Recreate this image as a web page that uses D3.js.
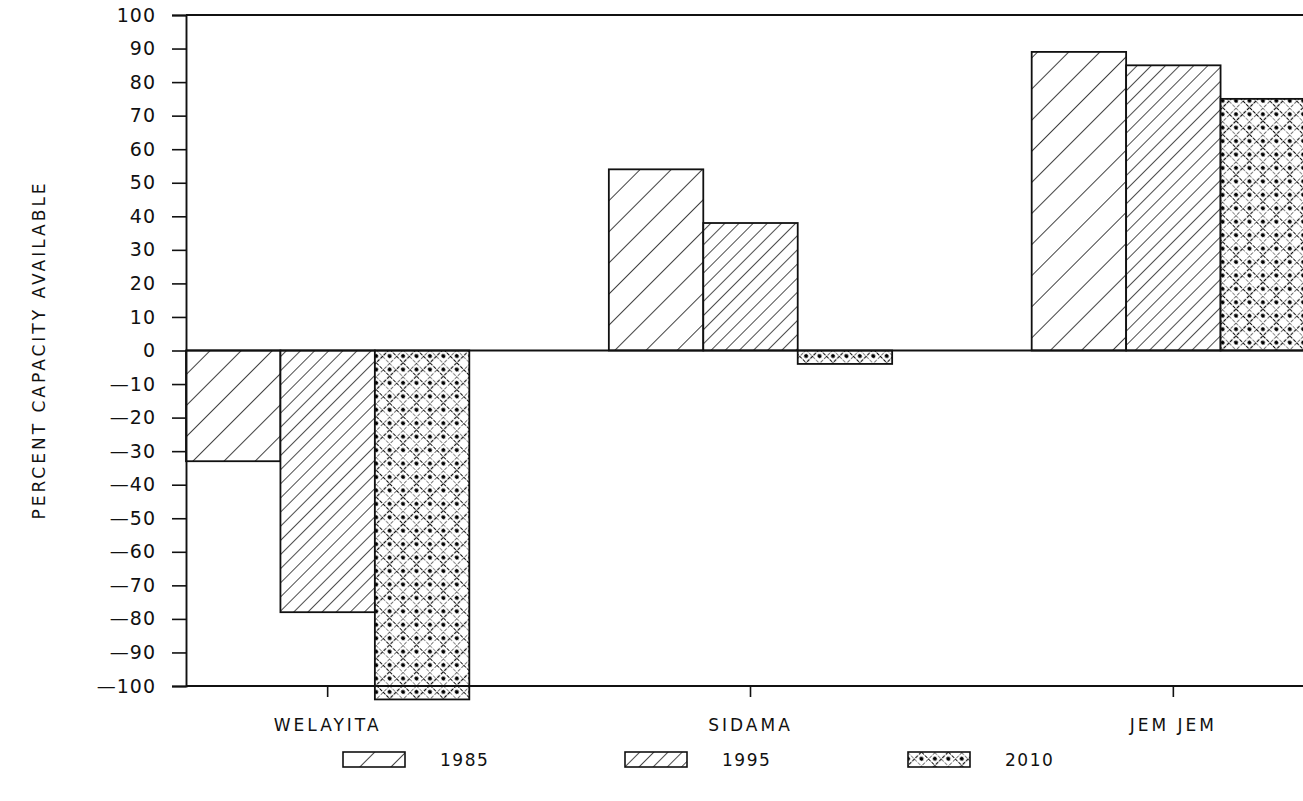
<!DOCTYPE html>
<html>
<head>
<meta charset="utf-8">
<script src="https://cdn.jsdelivr.net/npm/d3@7"></script>
<style>
  html, body { margin: 0; padding: 0; background: #fff; }
  svg { display: block; }
  text { font-family: "DejaVu Sans", sans-serif; fill: #111; }
</style>
</head>
<body>
<svg id="chart" width="1303" height="801"></svg>
<script>
// Regions and scenario years
const regions = ["WELAYITA", "SIDAMA", "JEM JEM"];
const years = ["1985", "1995", "2010"];

// Percent capacity available, one array per year (in region order)
const values1985 = [-33, 54, 89];
const values1995 = [-78, 38, 85];
const values2010 = [-104, -4, 75];

const yTicks = [100, 90, 80, 70, 60, 50, 40, 30, 20, 10, 0, -10, -20, -30, -40, -50, -60, -70, -80, -90, -100];

const seriesByYear = { "1985": values1985, "1995": values1995, "2010": values2010 };
const rows = [];
regions.forEach((r, i) => years.forEach(yr => rows.push({ region: r, year: yr, value: seriesByYear[yr][i] })));

const svg = d3.select("#chart");
const W = 1303;

const y = d3.scaleLinear().domain([-100, 100]).range([686, 15]);
const x0 = d3.scaleBand().domain(regions).range([186, 1315]).paddingInner(0.33).paddingOuter(0);
const x1 = d3.scaleBand().domain(years).range([0, x0.bandwidth()]);

// Hatch patterns
const defs = svg.append("defs");
function hatch(id, spacing, sw) {
  const p = defs.append("pattern").attr("id", id)
    .attr("patternUnits", "userSpaceOnUse")
    .attr("width", spacing).attr("height", spacing)
    .attr("patternTransform", "rotate(45)");
  p.append("rect").attr("width", spacing).attr("height", spacing).attr("fill", "#fff");
  p.append("line").attr("x1", 0).attr("y1", 0).attr("x2", 0).attr("y2", spacing)
    .attr("stroke", "#111").attr("stroke-width", sw);
}
hatch("p1985", 22, 1.6);
hatch("p1995", 10, 1.5);
{
  // cross-hatch lattice with dots inside the diamonds
  const s = 9.5;
  const p = defs.append("pattern").attr("id", "p2010")
    .attr("patternUnits", "userSpaceOnUse")
    .attr("width", s * 2).attr("height", s * 2)
    .attr("patternTransform", "rotate(45)");
  p.append("rect").attr("width", s * 2).attr("height", s * 2).attr("fill", "#fff");
  [0, s].forEach(v => {
    p.append("line").attr("x1", v).attr("y1", 0).attr("x2", v).attr("y2", s * 2)
      .attr("stroke", "#111").attr("stroke-width", 1.2).attr("stroke-dasharray", "3.5,1.3");
    p.append("line").attr("x1", 0).attr("y1", v).attr("x2", s * 2).attr("y2", v)
      .attr("stroke", "#111").attr("stroke-width", 1.2).attr("stroke-dasharray", "3.5,1.3");
  });
  p.append("circle").attr("cx", s / 2).attr("cy", s / 2).attr("r", 2.1).attr("fill", "#000");
  p.append("circle").attr("cx", s * 1.5).attr("cy", s * 1.5).attr("r", 2.1).attr("fill", "#000");
}

// Bars
svg.append("g").selectAll("rect").data(rows).join("rect")
  .attr("x", d => x0(d.region) + x1(d.year))
  .attr("width", x1.bandwidth())
  .attr("y", d => y(Math.max(0, d.value)))
  .attr("height", d => Math.abs(y(d.value) - y(0)))
  .attr("fill", d => `url(#p${d.year})`)
  .attr("stroke", "#111").attr("stroke-width", 1.8);

// Frame: top rule, zero line, baseline
function hline(yv) {
  svg.append("line").attr("x1", 186).attr("x2", W).attr("y1", y(yv)).attr("y2", y(yv))
    .attr("stroke", "#111").attr("stroke-width", 1.9);
}
hline(100); hline(0); hline(-100);

const labelFont = "'DejaVu Sans', sans-serif";

// Y axis
const yAxis = d3.axisLeft(y).tickValues(yTicks).tickSize(14).tickPadding(16)
  .tickFormat(d => d < 0 ? "\u2014" + Math.abs(d) : String(d));
const gy = svg.append("g").attr("transform", "translate(186,0)").call(yAxis);
gy.attr("font-size", null);
gy.select(".domain").attr("stroke", "#111").attr("stroke-width", 1.9);
gy.selectAll(".tick line").attr("stroke", "#111").attr("stroke-width", 1.6);
gy.selectAll(".tick text").style("font-size", "19px").attr("letter-spacing", 1)
  .style("font-family", labelFont).attr("fill", "#111");

// X axis ticks and labels
const xAxis = d3.axisBottom(x0).tickSize(11).tickPadding(22);
const gx = svg.append("g").attr("transform", `translate(0,${y(-100)})`).call(xAxis);
gx.attr("font-size", null);
gx.select(".domain").remove();
gx.selectAll(".tick line").attr("stroke", "#111").attr("stroke-width", 1.6);
gx.selectAll(".tick text").style("font-size", "17px").attr("letter-spacing", 3)
  .style("font-family", labelFont).attr("fill", "#111");

// Y axis title
svg.append("text")
  .attr("transform", "translate(45,350) rotate(-90)")
  .attr("text-anchor", "middle")
  .style("font-size", "17px").attr("letter-spacing", 3)
  .text("PERCENT CAPACITY AVAILABLE");

// Legend
const legendX = [343, 625, 908];
const lg = svg.append("g").selectAll("g").data(years).join("g")
  .attr("transform", (d, i) => `translate(${legendX[i]},752)`);
lg.append("rect").attr("width", 62).attr("height", 15)
  .attr("fill", d => `url(#p${d})`).attr("stroke", "#111").attr("stroke-width", 1.6);
lg.append("text").attr("x", 97).attr("y", 14).style("font-size", "17px").attr("letter-spacing", 1.5)
  .text(d => d);
</script>
</body>
</html>
